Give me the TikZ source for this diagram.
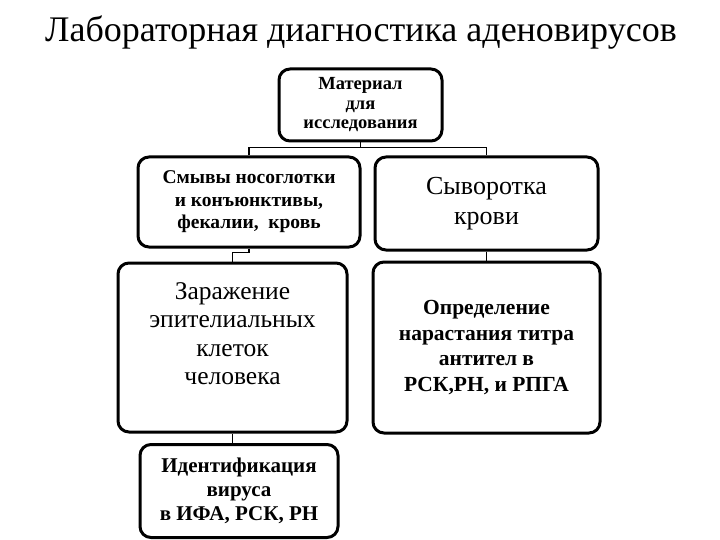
\documentclass[tikz,border=0pt]{standalone}
\usepackage{fontspec}
\setmainfont{Liberation Serif}
\usepackage{xcolor}

\tikzset{
  box/.style={draw=black, line width=3pt, rounded corners=11pt,
              fill=white, align=center, inner sep=2pt},
  link/.style={draw=black, line width=1.4pt}
}

\begin{document}
\begin{tikzpicture}[x=1pt, y=-1pt]
  \useasboundingbox (0,0) rectangle (720,540);
  % title
  \node[font=\fontsize{36}{40}\selectfont] (title) at (361,33) {Лабораторная диагностика аденовирусов};
  % top box
  \node[box, minimum width=163pt, minimum height=72pt,
        font=\fontsize{18.5}{19.5}\selectfont\bfseries] (mat) at (360.5,105)
    {Материал\\для\\исследования};
  % second row
  \node[box, minimum width=222pt, minimum height=90pt,
        font=\fontsize{19.5}{22.5}\selectfont\bfseries] (smyv) at (249,202)
    {Смывы носоглотки\\и конъюнктивы,\\фекалии,\ \ кровь};
  \node[box, minimum width=223pt, minimum height=93pt,
        font=\fontsize{26}{30}\selectfont] (syv) at (486.5,203.5)
    {Сыворотка\\крови};
  % third row
  \node[box, minimum width=229pt, minimum height=169pt,
        font=\fontsize{25.5}{28.5}\selectfont] (zar) at (232.5,347.5)
    {\begin{tabular}{@{}c@{}}Заражение\\эпителиальных\\клеток\\человека\\[22pt]\end{tabular}};
  \node[box, minimum width=227pt, minimum height=171pt,
        font=\fontsize{21.5}{25.5}\selectfont\bfseries] (opr) at (486.5,347.5)
    {Определение\\нарастания титра\\антител в\\РСК,РН, и РПГА};
  % bottom box
  \node[box, minimum width=198pt, minimum height=93pt,
        font=\fontsize{21}{24}\selectfont\bfseries] (ident) at (239,491)
    {Идентификация\\вируса\\в ИФА, РСК, РН};

  % connectors
  \draw[link] (mat.south) -- ++(0,5) coordinate (split);
  \draw[link] (smyv.north) |- (split) -| (syv.north);
  \draw[link] (smyv.south) -- ++(0,4) -| (zar.north);
  \draw[link] (syv.south) -- (opr.north);
  \draw[link] (zar.south) -- (zar.south |- ident.north);
\end{tikzpicture}
\end{document}
